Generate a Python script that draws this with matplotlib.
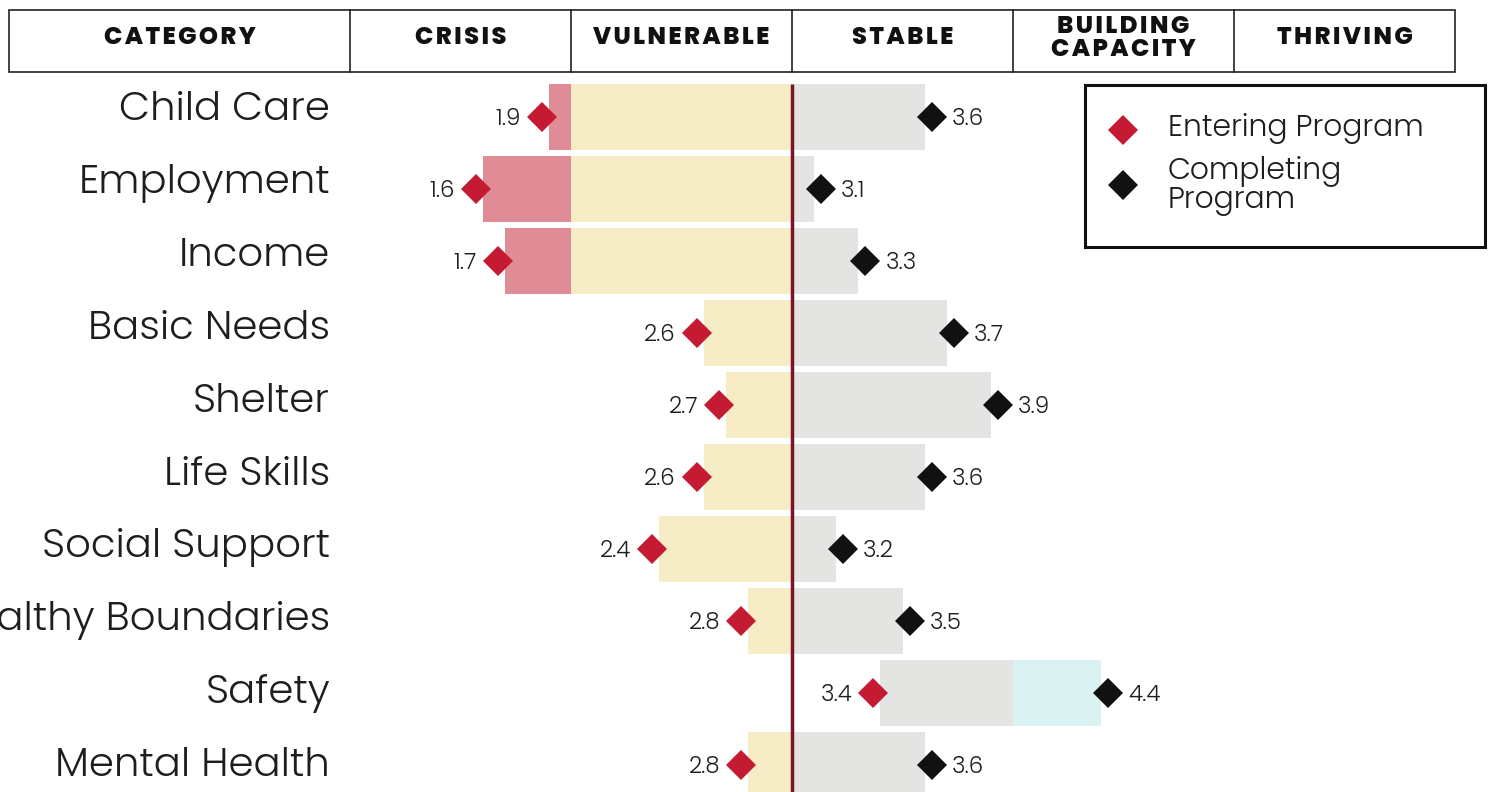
import matplotlib
matplotlib.use("Agg")
import matplotlib.pyplot as plt
from matplotlib.patches import Rectangle
from matplotlib.lines import Line2D
from matplotlib.transforms import ScaledTranslation, blended_transform_factory

# scores (1 = crisis ... 5 = thriving)
CATEGORIES = ["Child Care", "Employment", "Income", "Basic Needs", "Shelter",
              "Life Skills", "Social Support", "Healthy Boundaries", "Safety",
              "Mental Health"]
ENTERING = [1.9, 1.6, 1.7, 2.6, 2.7, 2.6, 2.4, 2.8, 3.4, 2.8]
COMPLETING = [3.6, 3.1, 3.3, 3.7, 3.9, 3.6, 3.2, 3.5, 4.4, 3.6]
STAGES = ["CRISIS", "VULNERABLE", "STABLE", "BUILDING\nCAPACITY", "THRIVING"]
STAGE_COLORS = ["#E08C96", "#F6EDC7", "#E4E4E3", "#DAF2F2", "#DDEFD8"]
LEGEND_LABELS = ["Entering Program", "Completing\nProgram"]

RED = "#C41B32"
BLACK = "#111111"
TEXT = "#1E1E1E"
LIGHT = ["Poppins", "DejaVu Sans"]
HEAVY = ["Poppins", "DejaVu Sans"]

W, H = 1491, 792


def fx(px):
    return px / W


def fy(py):
    return 1 - py / H


def track(s):
    """Fake letter spacing with hair spaces."""
    return "\n".join("\u200a".join(line) for line in s.split("\n"))


fig = plt.figure(figsize=(W / 100, H / 100), dpi=100)
ax = fig.add_axes([fx(350), 0, 1105 / W, (H - 81) / H])
ax.set_xlim(1, 6)
ax.set_ylim(9.375, -0.5)
ax.axis("off")

rows = list(range(len(CATEGORIES)))

# bars coloured by the stage each part of the span falls in
for i, (e, c) in enumerate(zip(ENTERING, COMPLETING)):
    lo, hi = min(e, c), max(e, c)
    for k, color in enumerate(STAGE_COLORS):
        a, b = max(lo, k + 1), min(hi, k + 2)
        if b > a:
            ax.barh(i, b - a, left=a, height=0.92, color=color, lw=0, zorder=1)

ax.vlines(3, -0.46, 9.375, color="#7B1526", lw=2.5, zorder=3)

shift = 7 / 100
left_tr = ax.transData + ScaledTranslation(-shift, 0, fig.dpi_scale_trans)
right_tr = ax.transData + ScaledTranslation(shift, 0, fig.dpi_scale_trans)
ax.plot(ENTERING, rows, ls="none", marker="D", ms=15, mew=0, color=RED,
        transform=left_tr, zorder=4)
ax.plot(COMPLETING, rows, ls="none", marker="D", ms=15, mew=0, color=BLACK,
        transform=right_tr, zorder=4)

for i, (e, c) in enumerate(zip(ENTERING, COMPLETING)):
    ax.annotate(f"{e:.1f}", xy=(e, i), xytext=(-20, -5.8),
                textcoords="offset points", ha="right", va="baseline",
                fontsize=16.5, family=LIGHT, fontweight=300, color=TEXT)
    ax.annotate(f"{c:.1f}", xy=(c, i), xytext=(19.5, -5.8),
                textcoords="offset points", ha="left", va="baseline",
                fontsize=16.5, family=LIGHT, fontweight=300, color=TEXT)

# category names sit on a slightly looser pitch than the bars
cax = fig.add_axes([0, 0, fx(350), (H - 81) / H])
cax.set_xlim(0, 350)
cax.set_ylim(9.218, -0.535)
cax.axis("off")
for i, name in enumerate(CATEGORIES):
    cax.text(330, i, name, ha="right", va="baseline", fontsize=29,
             family=LIGHT, fontweight=300, color=TEXT)

# header table
fig.add_artist(Rectangle((fx(9), fy(72)), (1455 - 9) / W, 62 / H,
                         transform=fig.transFigure, fill=False,
                         lw=1.2, ec="#222222"))
head_tr = blended_transform_factory(ax.transData, fig.transFigure)
for k in range(len(STAGES)):
    fig.add_artist(Line2D([k + 1, k + 1], [fy(72), fy(10)],
                          transform=head_tr, lw=1.2, color="#222222"))
    fig.text(k + 1.5, fy(39), track(STAGES[k]), transform=head_tr,
             ha="center", va="center", fontsize=17.5, family=HEAVY,
             fontweight=800, color=BLACK, linespacing=0.85)
fig.text(fx(180), fy(39), track("CATEGORY"), ha="center", va="center",
         fontsize=17.5, family=HEAVY, fontweight=800, color=BLACK)

# legend box
lax = fig.add_axes([fx(1085), fy(247), 400 / W, 162 / H])
lax.set_xlim(0, 400)
lax.set_ylim(162, 0)
lax.set_xticks([])
lax.set_yticks([])
for sp in lax.spines.values():
    sp.set_linewidth(2.2)
    sp.set_color(BLACK)
lax.plot([38], [45], ls="none", marker="D", ms=15, mew=0, color=RED)
lax.plot([38], [100], ls="none", marker="D", ms=15, mew=0, color=BLACK)
lax.text(83, 43, LEGEND_LABELS[0], va="center", ha="left", fontsize=21.5,
         family=LIGHT, fontweight=300, color=TEXT)
lax.text(83, 101, LEGEND_LABELS[1], va="center", ha="left", fontsize=21.5,
         family=LIGHT, fontweight=300, color=TEXT, linespacing=0.9)

fig.savefig("out.png", dpi=100)
